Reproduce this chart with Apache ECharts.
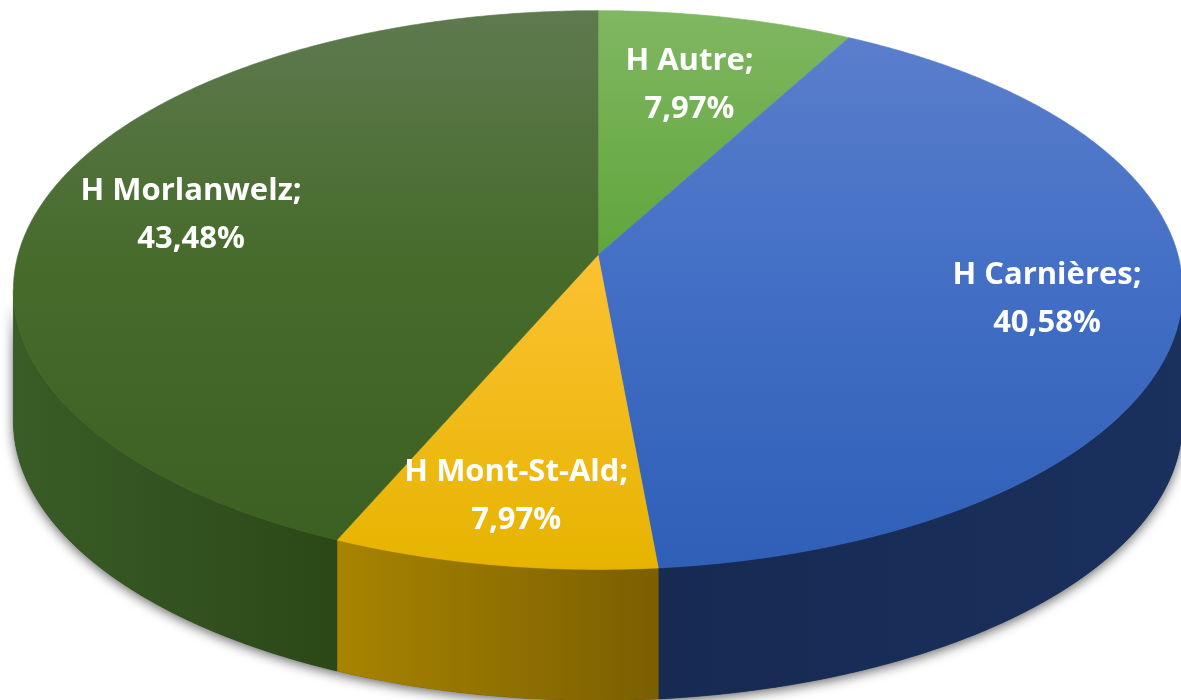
<!DOCTYPE html>
<html>
<head>
<meta charset="utf-8">
<script src="https://cdn.jsdelivr.net/npm/echarts@6/dist/echarts.min.js"></script>
<style>
html,body{margin:0;padding:0;background:#ffffff;}
#chart{width:1181px;height:700px;}
</style>
</head>
<body>
<div id="chart"></div>
<script>
// ---- data (clockwise from 12 o'clock) ----
const categories = ['H Autre', 'H Carnières', 'H Mont-St-Ald', 'H Morlanwelz'];
const counts = [11, 56, 11, 60];

// ---- layout / perspective of the tilted pie ----
const layout = { cx: 598, cy: 255, rx: 580, ry: 275, persp: -0.1254, depth: 131 };
// label distance from centre (fraction of radius) per slice, like Excel's best-fit placement
const labelRadius = [0.69, 0.775, 0.80, 0.73];

// ---- colours ----
const topColors = [
  ['#80b762', '#5fa53a', '#55a02f'],
  ['#5d80cc', '#4470c6', '#2f5fb7'],
  ['#ffcf4a', '#fcc131', '#e6b400'],
  ['#5e7a4f', '#466b2b', '#3b5f21']
];
const sideColors = [
  ['#5aa334', '#4a8a28'],
  ['#162a52', '#1a305d'],
  ['#a88400', '#7b5f00'],
  ['#395d27', '#2b4817']
];

const total = counts.reduce((a, b) => a + b, 0);
const starts = [];
(function () { let acc = 0; counts.forEach(c => { starts.push(acc); acc += c; }); })();

function proj(phi, r, dy) {
  const u = r * Math.sin(phi), v = -r * Math.cos(phi);
  const w = 1 + layout.persp * v;
  return [layout.cx + layout.rx * u / w, layout.cy + layout.ry * v / w + (dy || 0)];
}
function arc(a0, a1, dy) {
  const n = Math.max(2, Math.ceil((a1 - a0) / (Math.PI / 360)));
  const pts = [];
  for (let i = 0; i <= n; i++) pts.push(proj(a0 + (a1 - a0) * i / n, 1, dy));
  return pts;
}
const visA = Math.acos(layout.persp);
const visB = 2 * Math.PI - visA;
const yTopEdge = proj(0, 1)[1];
const yBottomEdge = proj(Math.PI, 1)[1];

function fmtPct(v) {
  return (v / total * 100).toFixed(2).replace('.', ',') + '%';
}

function renderItem(params, api) {
  const i = params.dataIndex;
  const val = api.value(0);
  const a0 = starts[i] / total * 2 * Math.PI;
  const a1 = (starts[i] + val) / total * 2 * Math.PI;
  const children = [];

  if (i === 0) {
    const band = arc(visA, visB, 0).concat(arc(visA, visB, layout.depth).reverse());
    children.push({
      type: 'polygon', z2: 0, silent: true,
      shape: { points: band },
      style: { fill: '#333333', shadowBlur: 12, shadowColor: 'rgba(0,0,0,0.6)', shadowOffsetX: 0, shadowOffsetY: 3 }
    });
  }

  const s0 = Math.max(a0, visA), s1 = Math.min(a1, visB);
  if (s1 > s0) {
    const pts = arc(s0, s1, 0).concat(arc(s0, s1, layout.depth).reverse());
    const grad = { type: 'linear', x: 0, y: 0, x2: 1, y2: 0,
      colorStops: [{ offset: 0, color: sideColors[i][0] }, { offset: 1, color: sideColors[i][1] }] };
    children.push({
      type: 'polygon', z2: 1,
      shape: { points: pts },
      style: { fill: grad, stroke: grad, lineWidth: 0.6 }
    });
  }

  const topPts = [proj(0, 0)].concat(arc(a0, a1, 0));
  const tg = { type: 'linear', x: 0, y: yTopEdge, x2: 0, y2: yBottomEdge, global: true,
    colorStops: [
      { offset: 0, color: topColors[i][0] },
      { offset: 0.45, color: topColors[i][1] },
      { offset: 1, color: topColors[i][2] }
    ] };
  children.push({
    type: 'polygon', z2: 2,
    shape: { points: topPts },
    style: { fill: tg, stroke: tg, lineWidth: 0.6 }
  });

  const mid = (a0 + a1) / 2;
  const lp = proj(mid, labelRadius[i]);
  children.push({
    type: 'text', z2: 3,
    x: lp[0], y: lp[1],
    style: {
      text: categories[i] + ';\n' + fmtPct(val),
      fill: '#ffffff',
      font: 'bold 31px "Open Sans"',
      align: 'center',
      verticalAlign: 'middle',
      lineHeight: 48
    }
  });

  return { type: 'group', children: children };
}

const chart = echarts.init(document.getElementById('chart'), null, { renderer: 'canvas' });
chart.setOption({
  animation: false,
  backgroundColor: '#ffffff',
  series: [{
    type: 'custom',
    coordinateSystem: 'none',
    renderItem: renderItem,
    data: counts.map((c, i) => ({ name: categories[i], value: c }))
  }]
});
</script>
</body>
</html>
